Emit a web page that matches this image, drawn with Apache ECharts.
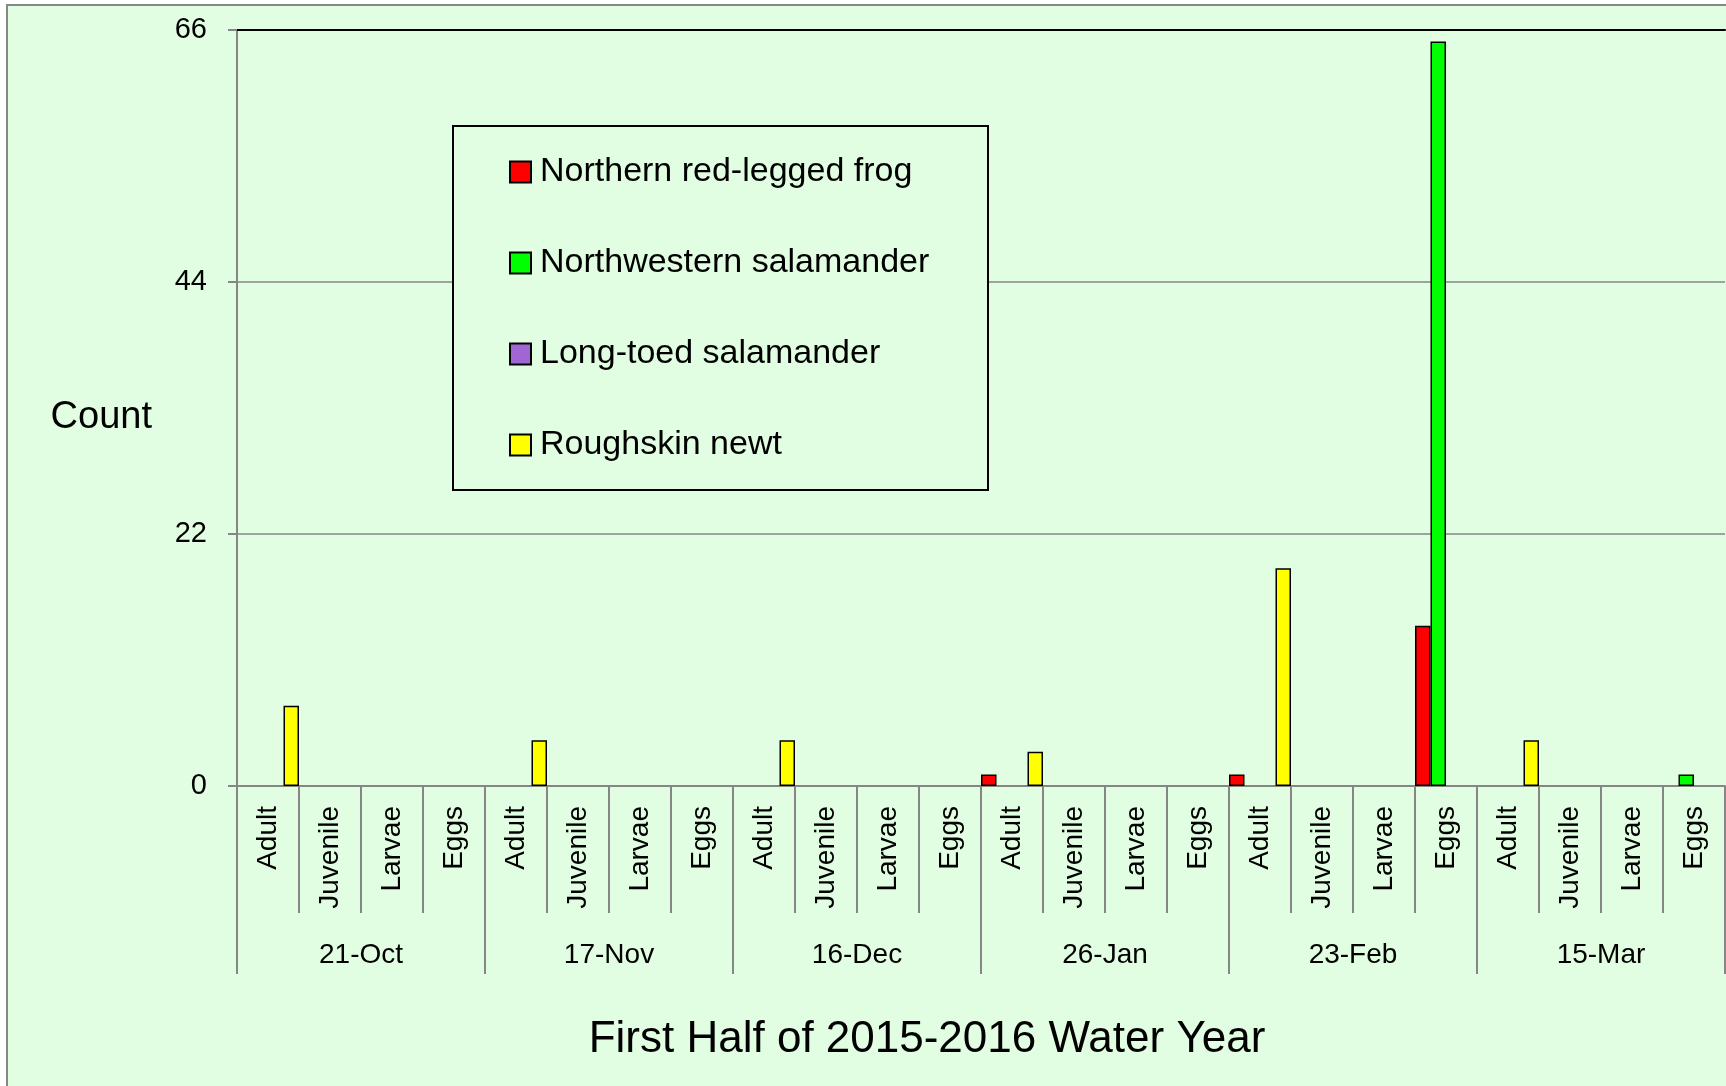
<!DOCTYPE html>
<html>
<head>
<meta charset="utf-8">
<title>Amphibian counts, first half of 2015-2016 water year</title>
<script src="https://cdn.jsdelivr.net/npm/echarts@6/dist/echarts.min.js"></script>
<style>
  html, body {
    margin: 0;
    padding: 0;
    width: 1726px;
    height: 1086px;
    overflow: hidden;
    background: #ffffff;
  }
  /* chart area frame, cropped on the right and bottom like the source */
  #frame {
    position: absolute;
    left: 6px;
    top: 4px;
    width: 2000px;
    height: 2000px;
    border: 2px solid #878787;
    background: #e2fee2;
  }
  #chart {
    position: absolute;
    left: 0;
    top: 0;
    width: 1726px;
    height: 1086px;
  }
</style>
</head>
<body>
<div id="frame"></div>
<div id="chart"></div>
<script>
// -- data ---------------------------------------------------------------
const surveyDates = ['21-Oct', '17-Nov', '16-Dec', '26-Jan', '23-Feb', '15-Mar'];
const lifeStages = ['Adult', 'Juvenile', 'Larvae', 'Eggs'];

// one value per date x stage (Adult, Juvenile, Larvae, Eggs for each date)
const redLeggedFrog = [
  0, 0, 0, 0,
  0, 0, 0, 0,
  0, 0, 0, 0,
  1, 0, 0, 0,
  1, 0, 0, 14,
  0, 0, 0, 0
];
const northwesternSalamander = [
  0, 0, 0, 0,
  0, 0, 0, 0,
  0, 0, 0, 0,
  0, 0, 0, 0,
  0, 0, 0, 65,
  0, 0, 0, 1
];
const longToedSalamander = [
  0, 0, 0, 0,
  0, 0, 0, 0,
  0, 0, 0, 0,
  0, 0, 0, 0,
  0, 0, 0, 0,
  0, 0, 0, 0
];
const roughskinNewt = [
  7, 0, 0, 0,
  4, 0, 0, 0,
  4, 0, 0, 0,
  3, 0, 0, 0,
  19, 0, 0, 0,
  4, 0, 0, 0
];

const yTicks = [0, 22, 44, 66];

// -- styling ------------------------------------------------------------
const FONT = 'Liberation Sans';
const BG = '#e2fee2';
const GRID_GRAY = '#868686';

// stage category repeated for every survey date
const stageCategories = [];
surveyDates.forEach((d) => {
  lifeStages.forEach((s) => stageCategories.push(s));
});

/**
 * Builds one bar series; zero counts are left empty like the source
 * @param {string} name - legend name
 * @param {Array} values - counts per category
 * @param {string} color - fill colour
 */
function makeSeries(name, values, color) {
  return {
    name: name,
    type: 'bar',
    xAxisIndex: 0,
    yAxisIndex: 0,
    barGap: '0%',
    barCategoryGap: '0%',
    data: values.map((v) => (v === 0 ? null : v)),
    itemStyle: {
      color: color,
      borderColor: '#000000',
      borderWidth: 1.5
    },
    emphasis: { disabled: true }
  };
}

const chart = echarts.init(document.getElementById('chart'), null, { renderer: 'canvas' });

const option = {
  backgroundColor: 'transparent',
  animation: false,
  textStyle: { fontFamily: FONT, color: '#000' },
  grid: {
    left: 237,
    top: 30,
    width: 1488,
    height: 756,
    containLabel: false
  },
  legend: {
    orient: 'vertical',
    left: 509,
    top: 155,
    padding: 0,
    itemGap: 57,
    itemWidth: 21,
    itemHeight: 21,
    icon: 'rect',
    selectedMode: false,
    z: 6,
    textStyle: {
      fontFamily: FONT,
      fontSize: 34,
      color: '#000',
      padding: [0, 0, 0, 4]
    },
    data: [
      'Northern red-legged frog',
      'Northwestern salamander',
      'Long-toed salamander',
      'Roughskin newt'
    ]
  },
  graphic: [
    {
      // legend box
      type: 'rect',
      z: 5,
      shape: { x: 453, y: 126, width: 535, height: 364 },
      style: { fill: BG, stroke: '#000000', lineWidth: 2 }
    }
  ],
  xAxis: [
    {
      // life stage level
      type: 'category',
      position: 'bottom',
      data: stageCategories,
      axisLine: { show: true, lineStyle: { color: GRID_GRAY, width: 2 } },
      axisTick: {
        show: true,
        interval: 0,
        alignWithLabel: false,
        length: 127,
        lineStyle: { color: GRID_GRAY, width: 2 }
      },
      axisLabel: {
        interval: 0,
        rotate: 90,
        margin: 20,
        fontFamily: FONT,
        fontSize: 28,
        color: '#000'
      },
      splitLine: { show: false }
    },
    {
      // survey date level
      type: 'category',
      position: 'bottom',
      data: surveyDates,
      name: 'First Half of 2015-2016 Water Year',
      nameLocation: 'middle',
      nameGap: 232,
      nameTextStyle: {
        fontFamily: FONT,
        fontSize: 44,
        color: '#000',
        padding: [0, 108, 0, 0]
      },
      axisLine: { show: false },
      axisTick: {
        show: true,
        interval: 0,
        alignWithLabel: false,
        length: 188,
        lineStyle: { color: GRID_GRAY, width: 2 }
      },
      axisLabel: {
        interval: 0,
        margin: 155,
        fontFamily: FONT,
        fontSize: 28,
        color: '#000'
      },
      splitLine: { show: false }
    },
    {
      // dark top edge of the plot area
      type: 'category',
      position: 'top',
      data: surveyDates,
      axisLine: { show: true, lineStyle: { color: '#000000', width: 2 } },
      axisTick: { show: false },
      axisLabel: { show: false },
      splitLine: { show: false }
    }
  ],
  yAxis: {
    type: 'value',
    min: yTicks[0],
    max: yTicks[yTicks.length - 1],
    interval: yTicks[1] - yTicks[0],
    name: 'Count',
    nameLocation: 'middle',
    nameRotate: 0,
    nameGap: 85,
    nameTextStyle: {
      fontFamily: FONT,
      fontSize: 38,
      color: '#000',
      verticalAlign: 'top',
      lineHeight: 20
    },
    axisLine: { show: true, lineStyle: { color: GRID_GRAY, width: 2 } },
    axisTick: {
      show: true,
      inside: false,
      length: 9,
      lineStyle: { color: GRID_GRAY, width: 2 }
    },
    axisLabel: {
      margin: 30,
      fontFamily: FONT,
      fontSize: 29,
      color: '#000'
    },
    splitLine: { show: true, lineStyle: { color: GRID_GRAY, width: 1.5 } }
  },
  series: [
    makeSeries('Northern red-legged frog', redLeggedFrog, '#ff0000'),
    makeSeries('Northwestern salamander', northwesternSalamander, '#00ff00'),
    makeSeries('Long-toed salamander', longToedSalamander, '#a066d3'),
    makeSeries('Roughskin newt', roughskinNewt, '#ffff00')
  ]
};

try {
  chart.setOption(option);
} catch (error) {
  console.error('Failed to render chart:', error.message);
}
</script>
</body>
</html>
